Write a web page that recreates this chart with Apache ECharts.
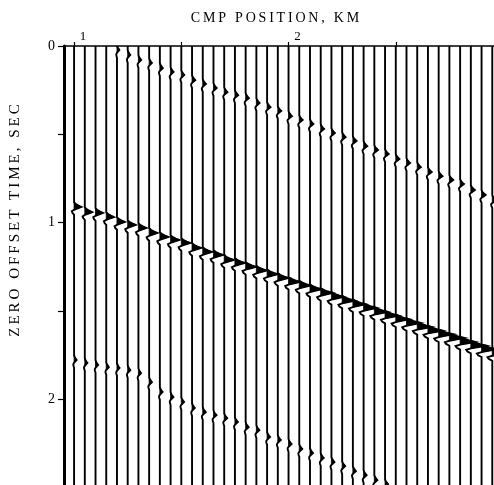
<!DOCTYPE html>
<html><head><meta charset="utf-8">
<script src="https://cdn.jsdelivr.net/npm/echarts@6.0.0/dist/echarts.min.js"></script>
<style>html,body{margin:0;padding:0;background:#fff}#c{width:494px;height:485px}</style>
</head><body><div id="c"></div>
<script>
// CMP positions of the traces (km)
const cmpKm = [1.00,1.05,1.10,1.15,1.20,1.25,1.30,1.35,1.40,1.45,1.50,1.55,1.60,1.65,1.70,1.75,1.80,1.85,1.90,1.95,
               2.00,2.05,2.10,2.15,2.20,2.25,2.30,2.35,2.40,2.45,2.50,2.55,2.60,2.65,2.70,2.75,2.80,2.85,2.90,2.95];
// strong dipping reflection: peak time (s) and amplitude (km of deflection)
const mainTimes = [0.912,0.941,0.946,0.969,0.997,1.014,1.031,1.059,1.082,1.099,1.116,1.144,1.167,1.184,1.212,1.229,1.251,1.272,1.293,1.314,
                   1.336,1.357,1.378,1.399,1.421,1.442,1.463,1.484,1.506,1.527,1.548,1.569,1.591,1.612,1.633,1.654,1.676,1.697,1.718,1.739];
const mainAmps  = [0.034,0.034,0.035,0.036,0.037,0.038,0.038,0.039,0.040,0.041,0.042,0.043,0.044,0.045,0.046,0.047,0.048,0.049,0.050,0.051,
                   0.052,0.053,0.055,0.056,0.057,0.058,0.060,0.061,0.062,0.063,0.064,0.066,0.067,0.068,0.069,0.070,0.071,0.072,0.073,0.074];
// weaker upper event
const upperTimes = [null,null,null,null,0.023,0.051,0.079,0.096,0.125,0.147,0.164,0.193,0.215,0.238,0.261,0.278,0.295,0.323,0.346,0.368,
                    0.397,0.419,0.442,0.470,0.493,0.516,0.538,0.567,0.589,0.612,0.640,0.663,0.686,0.714,0.737,0.759,0.782,0.816,0.844,0.873];
const upperAmps  = [null,null,null,null,0.011,0.012,0.013,0.013,0.014,0.014,0.014,0.015,0.015,0.015,0.015,0.015,0.015,0.015,0.016,0.016,
                    0.016,0.016,0.016,0.016,0.016,0.016,0.017,0.017,0.017,0.017,0.017,0.017,0.017,0.018,0.018,0.018,0.018,0.019,0.019,0.019];
// weaker lower event
const lowerTimes = [1.779,1.796,1.807,1.819,1.824,1.836,1.853,1.904,1.960,1.989,2.017,2.051,2.074,2.091,2.108,2.130,2.159,2.176,2.215,2.232,
                    2.255,2.283,2.306,2.334,2.357,2.380,2.408,2.431,2.459,2.482,null,null,null,null,null,null,null,null,null,null];
const lowerAmps  = [0.012,0.012,0.012,0.012,0.012,0.012,0.012,0.013,0.013,0.013,0.013,0.013,0.014,0.014,0.014,0.014,0.014,0.014,0.014,0.014,
                    0.014,0.014,0.014,0.014,0.014,0.014,0.014,0.014,0.014,0.014,null,null,null,null,null,null,null,null,null,null];
// wavelet shape (time offset s, normalised amplitude)
const waveletOffsets = [-0.028,-0.018,-0.008,0,0.008,0.016,0.024,0.034,0.044];
const waveletValues  = [0,0.2,0.6,1,0.5,0,-0.3,-0.22,0];
// axis ticks and labels
const xTickValues = [1,1.5,2,2.5];
const xLabelValues = [1,2];
const yTickValues = [0,0.5,1,1.5,2];
const yLabelValues = [0,1,2];

const spaced = s => s.split('').join('\u2009');
const FONT = '"Liberation Serif","Times New Roman",serif';

function renderItem(params, api) {
  const k = params.dataIndex;
  const x0 = cmpKm[k];
  const events = [];
  [[mainTimes, mainAmps], [upperTimes, upperAmps], [lowerTimes, lowerAmps]].forEach(([T, A]) => {
    if (T[k] != null) events.push([T[k], A[k]]);
  });
  events.sort((a, b) => a[0] - b[0]);
  const linePts = [api.coord([x0, -0.1])];
  const children = [];
  events.forEach(([t, a]) => {
    const w = waveletOffsets.map((o, i) => [waveletValues[i], t + o]);
    w.forEach(([v, tt]) => linePts.push(api.coord([x0 + a * v, tt])));
    let poly = null;
    for (let i = 0; i < w.length; i++) {
      const [v, tt] = w[i];
      if (v > 0) {
        if (!poly) {
          poly = [];
          const [v0, t0] = w[i - 1];
          const tc = t0 + (tt - t0) * (0 - v0) / (v - v0);
          poly.push(api.coord([x0, tc]));
        }
        poly.push(api.coord([x0 + a * v, tt]));
      } else if (poly) {
        const [v0, t0] = w[i - 1];
        const tc = t0 + (tt - t0) * (0 - v0) / (v - v0);
        poly.push(api.coord([x0, tc]));
        children.push({ type: 'polygon', shape: { points: poly }, style: { fill: '#000', stroke: '#000', lineWidth: 0.8 } });
        poly = null;
      }
    }
  });
  linePts.push(api.coord([x0, 2.7]));
  children.push({ type: 'polyline', shape: { points: linePts }, style: { stroke: '#000', lineWidth: 1.9, fill: null } });
  return { type: 'group', children };
}

const chart = echarts.init(document.getElementById('c'), null, { renderer: 'canvas' });
chart.setOption({
  backgroundColor: '#fff',
  animation: false,
  grid: { left: 64, right: 0, top: 46, bottom: 0, containLabel: false },
  xAxis: {
    type: 'value', position: 'top', min: 0.953, max: 2.958,
    axisLine: { onZero: false, lineStyle: { color: '#000', width: 1.5 } },
    axisTick: { show: true, inside: false, length: 4, customValues: xTickValues, lineStyle: { color: '#000', width: 1.2 } },
    axisLabel: { customValues: xLabelValues, color: '#000', fontFamily: FONT, fontSize: 13, margin: 3, padding: [0, 0, 0, 18] },
    splitLine: { show: false },
    name: spaced('CMP POSITION, KM'), nameLocation: 'middle', nameGap: 21,
    nameTextStyle: { color: '#000', fontFamily: FONT, fontSize: 14, padding: [0, 8, 0, 0] }
  },
  yAxis: {
    type: 'value', inverse: true, min: 0, max: 2.487,
    axisLine: { onZero: false, lineStyle: { color: '#000', width: 3 } },
    axisTick: { show: true, inside: false, length: 6, customValues: yTickValues, lineStyle: { color: '#000', width: 1.2 } },
    axisLabel: { customValues: yLabelValues, color: '#000', fontFamily: FONT, fontSize: 14, margin: 9 },
    splitLine: { show: false },
    name: spaced('ZERO OFFSET TIME, SEC'), nameLocation: 'middle', nameRotate: 90, nameGap: 41,
    nameTextStyle: { color: '#000', fontFamily: FONT, fontSize: 15, padding: [0, 0, 0, 90] }
  },
  series: [{
    type: 'custom', coordinateSystem: 'cartesian2d', clip: true,
    renderItem,
    encode: { x: 0, y: 1 },
    data: cmpKm.map(x => [x, 0])
  }]
});
</script></body></html>
